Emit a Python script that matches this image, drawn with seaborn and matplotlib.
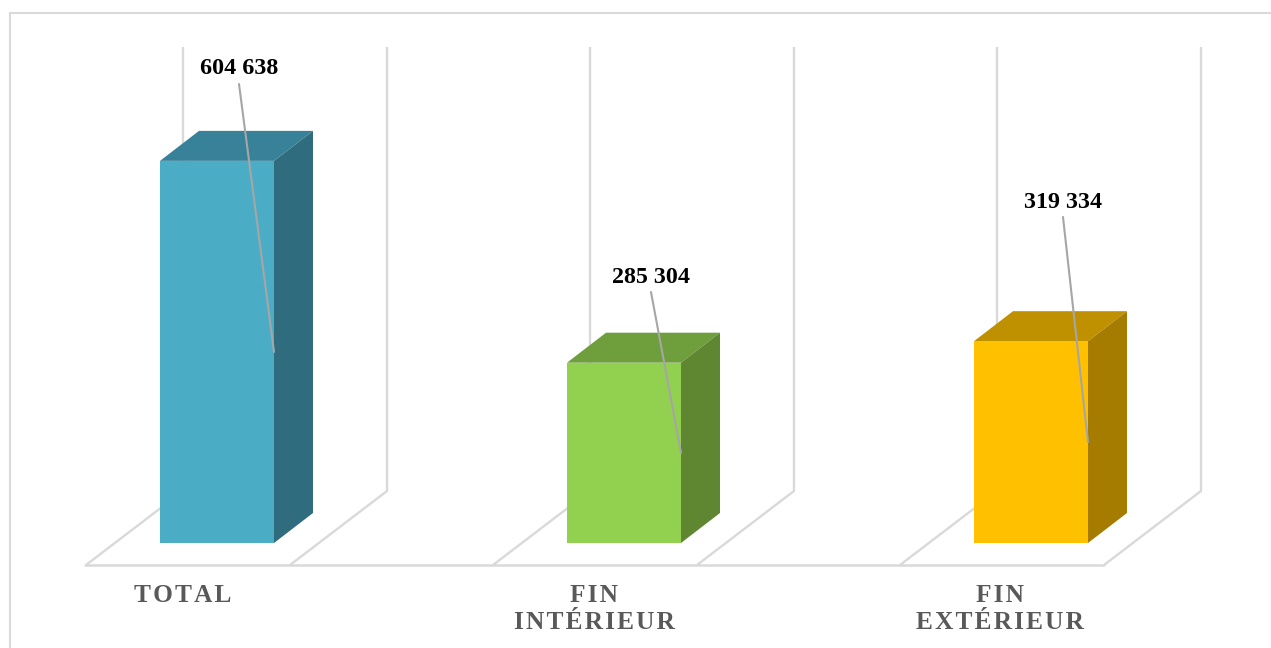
import numpy as np
import seaborn as sns
import matplotlib.pyplot as plt
from matplotlib.lines import Line2D

categories = ['TOTAL', 'FIN INTÉRIEUR', 'FIN EXTÉRIEUR']
values = [604638, 285304, 319334]
value_labels = ['604 638', '285 304', '319 334']
tick_labels = ['TOTAL', 'FIN\nINTÉRIEUR', 'FIN\nEXTÉRIEUR']

front_colors = ['#4BACC6', '#92D050', '#FFC000']
top_colors = ['#388299', '#6F9E3D', '#BF9000']
side_colors = ['#2F6D7E', '#5F8731', '#A67C00']

W, H = 1271, 648
GRID = '#D9D9D9'
HAIR = '\u200a'

sns.set_theme(style='white')
plt.rcParams['font.family'] = ['Liberation Serif', 'DejaVu Serif']

# one category step is 407 px, one px of height is 1 / 0.000632 units
step = 407
per_px = 1 / 0.000632
baseline, floor_y, wall_top = 543, 565, 47

fig = plt.figure(figsize=(W / 100, H / 100), dpi=100)
left = 217 - step / 2
ax = fig.add_axes([left / W, 1 - floor_y / H, 3 * step / W, (floor_y - wall_top) / H])

sns.barplot(x=categories, y=values, hue=categories, palette=front_colors,
            saturation=1, width=114 / step, legend=False, edgecolor='none',
            zorder=4, ax=ax)
ax.set_xlim(-0.5, 2.5)
ax.set_ylim(-(floor_y - baseline) * per_px, (baseline - wall_top) * per_px)
ax.patch.set_alpha(0)
sns.despine(ax=ax, left=True, bottom=True)
ax.set_yticks([])

# floor and walls, one cell per category
floor_y0 = ax.get_ylim()[0]
wall_y = ax.get_ylim()[1]
back_y = floor_y0 + 74 * per_px
cell_dx, cell_w = 97 / step, 204 / step
for i in range(3):
    x0 = i - 131 / step
    x1 = x0 + cell_w
    for x in (x0, x1):
        ax.plot([x, x + cell_dx, x + cell_dx], [floor_y0, back_y, wall_y],
                color=GRID, lw=1.7, zorder=1, clip_on=False, solid_capstyle='butt')
ax.plot([-132 / step, 2 - 131 / step + cell_w], [floor_y0, floor_y0],
        color=GRID, lw=1.8, zorder=1, clip_on=False)

# depth of the boxes
dx, dy = 39 / step, 30 * per_px
for bar, top_c, side_c in zip(ax.patches, top_colors, side_colors):
    x0, x1, h = bar.get_x(), bar.get_x() + bar.get_width(), bar.get_height()
    ax.fill([x0, x1, x1 + dx, x0 + dx], [h, h, h + dy, h + dy], color=top_c, lw=0, zorder=3)
    ax.fill([x1, x1 + dx, x1 + dx, x1], [0, dy, h + dy, h], color=side_c, lw=0, zorder=3)

# value labels with leader lines down to the middle of the bar edge
label_dx = [22 / step, 27 / step, 32 / step]
label_top = [84, 292, 217]
for bar, txt, off, py in zip(ax.patches, value_labels, label_dx, label_top):
    xc = bar.get_x() + bar.get_width() / 2 + off
    y = (baseline - py) * per_px
    ax.plot([xc, bar.get_x() + bar.get_width()], [y, bar.get_height() / 2],
            color='#A6A6A6', lw=1.5, zorder=5)
    ax.text(xc, y + 15 * per_px, txt, ha='center', va='center', fontsize=17.3,
            fontweight='bold', color='black', zorder=6)

# tick labels sit left of the bars, letters spaced out
spaced = ['\n'.join(HAIR.join(line) for line in t.split('\n')) for t in tick_labels]
ax.set_xticks(np.arange(3) - np.array([34, 30, 31]) / step)
ax.set_xticklabels(spaced, fontsize=18.3, fontweight='bold', color='#595959', linespacing=1.21)
ax.tick_params(axis='x', length=0, pad=13.5)

# chart frame, cut by the right and bottom of the picture
fx, fy = 9.5 / W, 1 - 12.5 / H
fig.add_artist(Line2D([fx, fx], [0, fy], color=GRID, lw=1.5))
fig.add_artist(Line2D([fx, 1], [fy, fy], color=GRID, lw=1.5))

fig.savefig('out.png', dpi=100, facecolor='white')
